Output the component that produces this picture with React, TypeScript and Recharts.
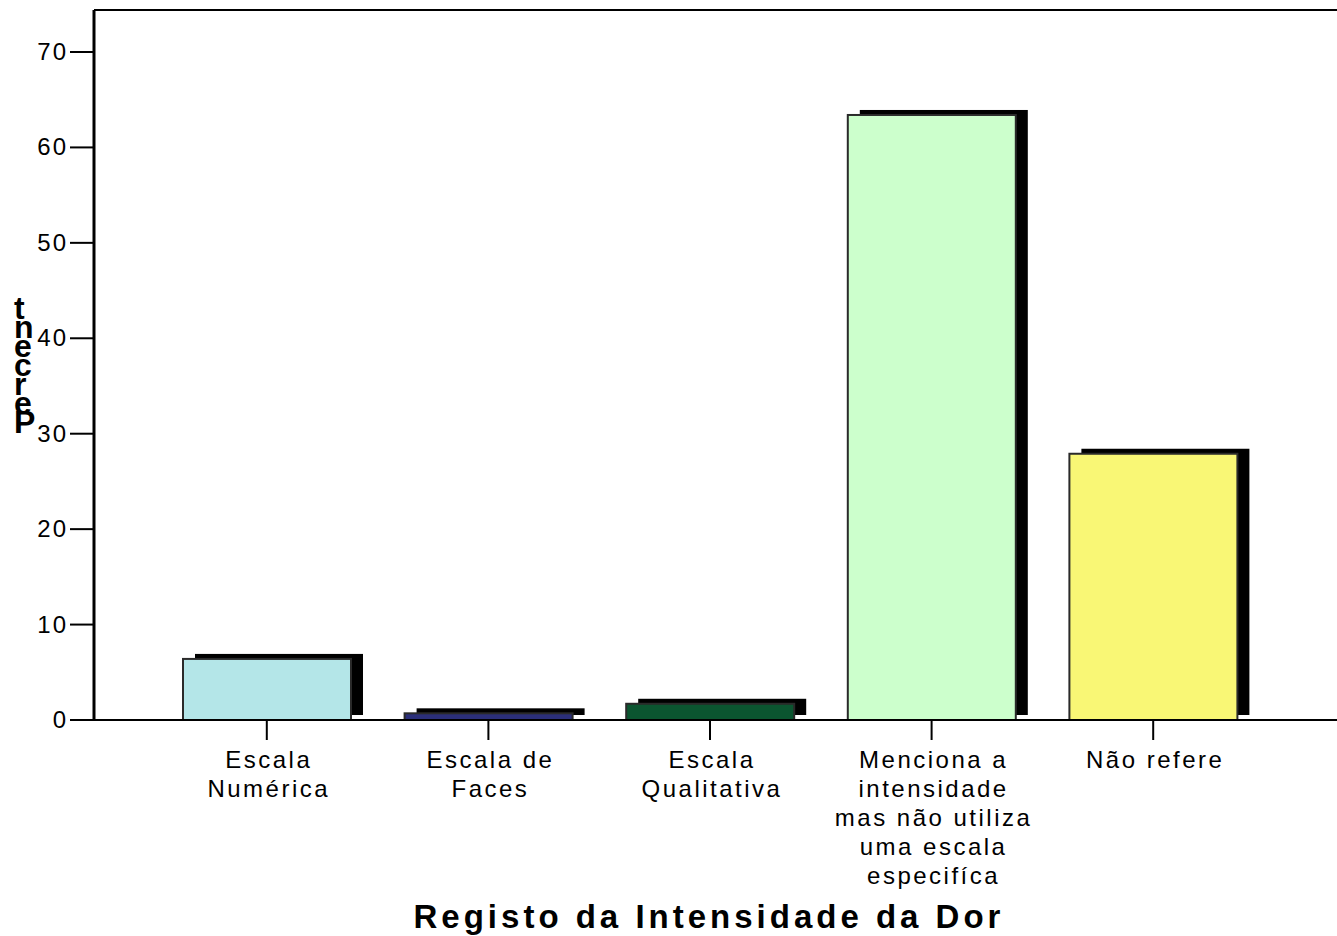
import React from 'react';
import { BarChart, Bar, XAxis, YAxis, Cell, ReferenceLine, Label } from 'recharts';

const categories = [
  'Escala\nNumérica',
  'Escala de\nFaces',
  'Escala\nQualitativa',
  'Menciona a\nintensidade\nmas não utiliza\numa escala\nespecifíca',
  'Não refere',
];
const percents = [6.4, 0.7, 1.7, 63.4, 27.9];
const barColors = ['#B4E6E8', '#2B2F7A', '#0B5530', '#CCFFCC', '#F9F775'];
const yTicks = [0, 10, 20, 30, 40, 50, 60, 70];
const yLabel = 'Percent';
const xTitle = 'Registo da Intensidade da Dor';

const data = categories.map((name, i) => ({ name, value: percents[i] }));

const FONT = '"Liberation Sans", Arial, sans-serif';

const ShadowBar = (props: any) => {
  const { x, y, width, height, fill } = props;
  if (width == null || height == null) return null;
  return (
    <g>
      <rect x={x + 12} y={y - 5} width={width} height={height} fill="#000" />
      <rect x={x} y={y} width={width} height={height} fill={fill} stroke="#2a2a2a" strokeWidth={2} />
    </g>
  );
};

const XTick = (props: any) => {
  const { x, y, payload } = props;
  const lines = String(payload.value).split('\n');
  return (
    <text x={x} y={y} textAnchor="middle" fontFamily={FONT} fontSize={24} letterSpacing={2.5} fill="#000">
      {lines.map((l, i) => (
        <tspan key={i} x={x + 2} y={y + 26 + i * 29}>{l}</tspan>
      ))}
    </text>
  );
};

const YTick = (props: any) => {
  const { x, y, payload } = props;
  return (
    <text x={x + 2} y={y + 8} textAnchor="end" fontFamily={FONT} fontSize={24} letterSpacing={2} fill="#000">
      {payload.value}
    </text>
  );
};

// stacked upright letters, read bottom to top
const StackedYLabel = () => {
  const letters = yLabel.split('');
  return (
    <text fontFamily={FONT} fontSize={32} fontWeight="bold" fill="#000">
      {letters.map((ch, i) => (
        <tspan key={i} x={14} y={433 - i * 19}>{ch}</tspan>
      ))}
    </text>
  );
};

const XTitle = () => (
  <text x={709} y={928} textAnchor="middle" fontFamily={FONT} fontSize={33} fontWeight="bold" letterSpacing={4} fill="#000">
    {xTitle}
  </text>
);

export default function App() {
  return (
    <div style={{ position: 'absolute', left: 0, top: 0, background: '#fff' }}>
      <BarChart width={1337} height={936} data={data} margin={{ top: 10, right: 0, bottom: 0, left: 0 }}>
        <ReferenceLine y={74.4} stroke="#000" strokeWidth={2} />
        <Bar dataKey="value" barSize={168} shape={<ShadowBar />} isAnimationActive={false}>
          {data.map((d, i) => (
            <Cell key={i} fill={barColors[i]} />
          ))}
        </Bar>
        <XAxis
          dataKey="name"
          interval={0}
          height={216}
          padding={{ left: 62, right: 73 }}
          axisLine={{ stroke: '#000', strokeWidth: 2 }}
          tickLine={{ stroke: '#000', strokeWidth: 2 }}
          tickSize={20}
          tickMargin={2}
          tick={<XTick />}
        >
          <Label content={<XTitle />} />
        </XAxis>
        <YAxis
          domain={[0, 74.4]}
          ticks={yTicks}
          width={94}
          axisLine={{ stroke: '#000', strokeWidth: 3 }}
          tickLine={{ stroke: '#000', strokeWidth: 2 }}
          tickSize={24}
          tickMargin={4}
          tick={<YTick />}
        >
          <Label content={<StackedYLabel />} />
        </YAxis>
      </BarChart>
    </div>
  );
}
